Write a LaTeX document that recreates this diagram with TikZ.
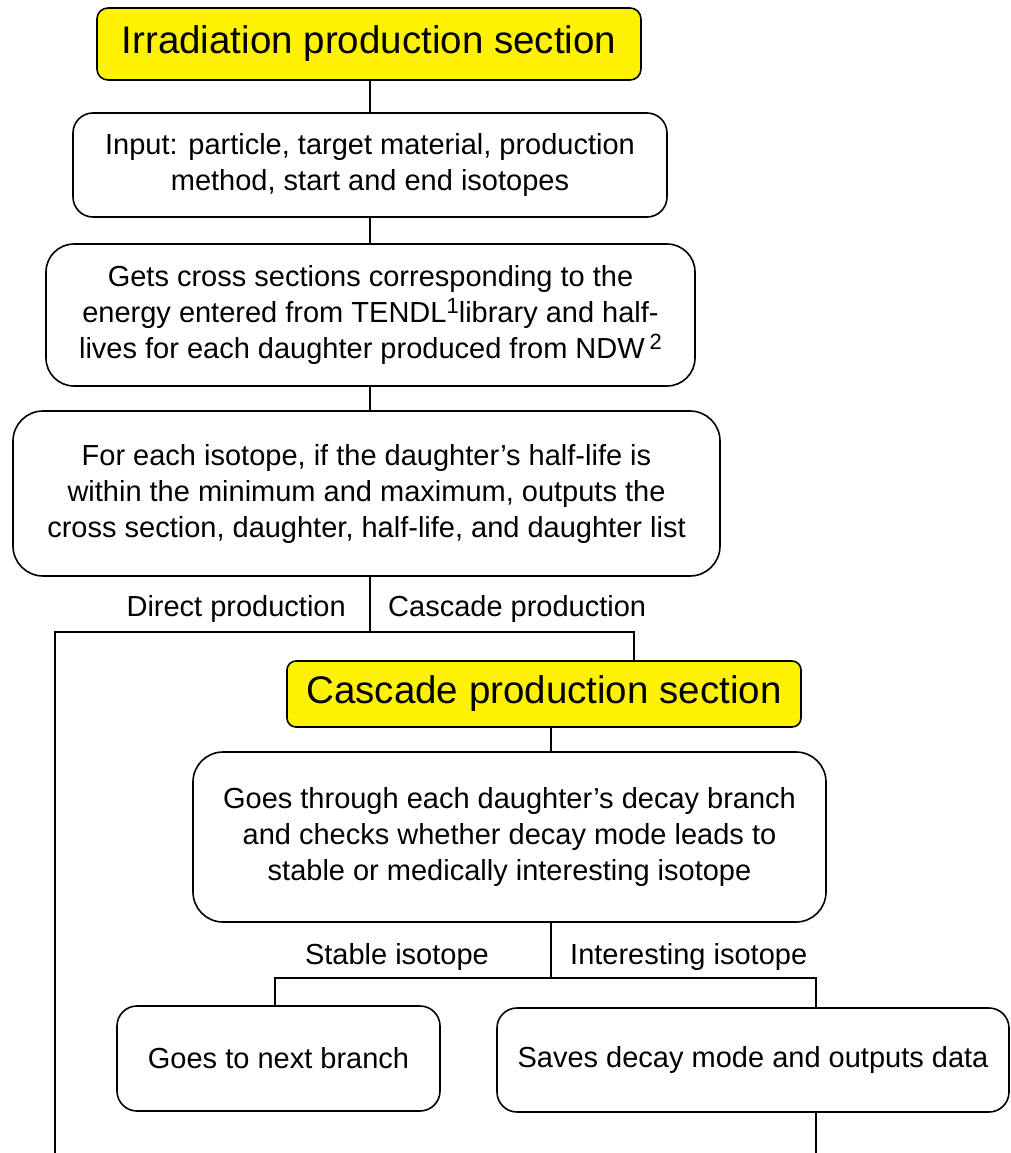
\documentclass[tikz,border=0pt]{standalone}
\usepackage{fontspec}
\setmainfont{Liberation Sans}
\newcommand\mysup[1]{\raisebox{9pt}{\fontsize{22}{22}\selectfont #1}}
\begin{document}
\begin{tikzpicture}[x=1pt,y=-1pt,
  box/.style={draw=black,line width=1.6pt,fill=white,align=center,inner sep=0pt,
    font=\fontsize{29}{36}\selectfont},
  titlebox/.style={box,fill=yellow,font=\fontsize{38.5}{44}\selectfont,rounded corners=11pt},
  lbl/.style={inner sep=0pt,font=\fontsize{29}{34}\selectfont},
  conn/.style={line width=1.6pt}]
\useasboundingbox (0,0) rectangle (1010,1153);
\fill[white] (0,0) rectangle (1010,1153);
% nodes
\node[titlebox,minimum width=544pt,minimum height=72pt] (t1) at (369,44) {Irradiation production section};
\node[box,rounded corners=20pt,minimum width=594pt,minimum height=104pt] (b1) at (370,165)
  {Input: particle, target material, production\\method, start and end isotopes};
\node[box,rounded corners=28pt,minimum width=649pt,minimum height=142pt] (b2) at (370.5,315)
  {Gets cross sections corresponding to the\\energy entered from TENDL\mysup{1}library and half-\\lives for each daughter produced from NDW\,\mysup{2}};
\node[box,rounded corners=30pt,minimum width=707pt,minimum height=165pt] (b3) at (366.5,493.5)
  {For each isotope, if the daughter’s half-life is\\within the minimum and maximum, outputs the\\cross section, daughter, half-life, and daughter list};
\node[lbl,anchor=east] (l1) at (346,609) {Direct production};
\node[lbl,anchor=west] (l2) at (388,609) {Cascade production};
\node[titlebox,rounded corners=9pt,minimum width=514pt,minimum height=66pt] (t2) at (544,694) {Cascade production section};
\node[box,rounded corners=30pt,minimum width=633pt,minimum height=170pt] (b4) at (509.5,837)
  {Goes through each daughter’s decay branch\\and checks whether decay mode leads to\\stable or medically interesting isotope};
\node[lbl,anchor=east] (l3) at (489,957) {Stable isotope};
\node[lbl,anchor=west] (l4) at (570,957) {Interesting isotope};
\node[box,rounded corners=20pt,minimum width=323pt,minimum height=105pt] (b5) at (278.5,1058.5) {Goes to next branch};
\node[box,rounded corners=20pt,minimum width=512pt,minimum height=104pt] (b6) at (753,1060) {Saves decay mode and outputs data};
% coordinates
\coordinate (j1) at (370,632);
\coordinate (jL) at (55,632);
\coordinate (jR) at (634,632);
\coordinate (eL) at (55,1153);
\coordinate (j2) at (551,978);
\coordinate (kL) at (275,978);
\coordinate (kR) at (816,978);
\coordinate (eR) at (816,1153);
% connectors
\draw[conn] (t1.south -| j1) -- (b1.north -| j1);
\draw[conn] (b1.south -| j1) -- (b2.north -| j1);
\draw[conn] (b2.south -| j1) -- (b3.north -| j1);
\draw[conn] (b3.south -| j1) -- (j1);
\draw[conn] (eL) -- (jL) -- (jR) -- (t2.north -| jR);
\draw[conn] (t2.south -| j2) -- (b4.north -| j2);
\draw[conn] (b4.south -| j2) -- (j2);
\draw[conn] (b5.north -| kL) -- (kL) -- (kR) -- (b6.north -| kR);
\draw[conn] (b6.south -| kR) -- (eR);
\end{tikzpicture}
\end{document}
